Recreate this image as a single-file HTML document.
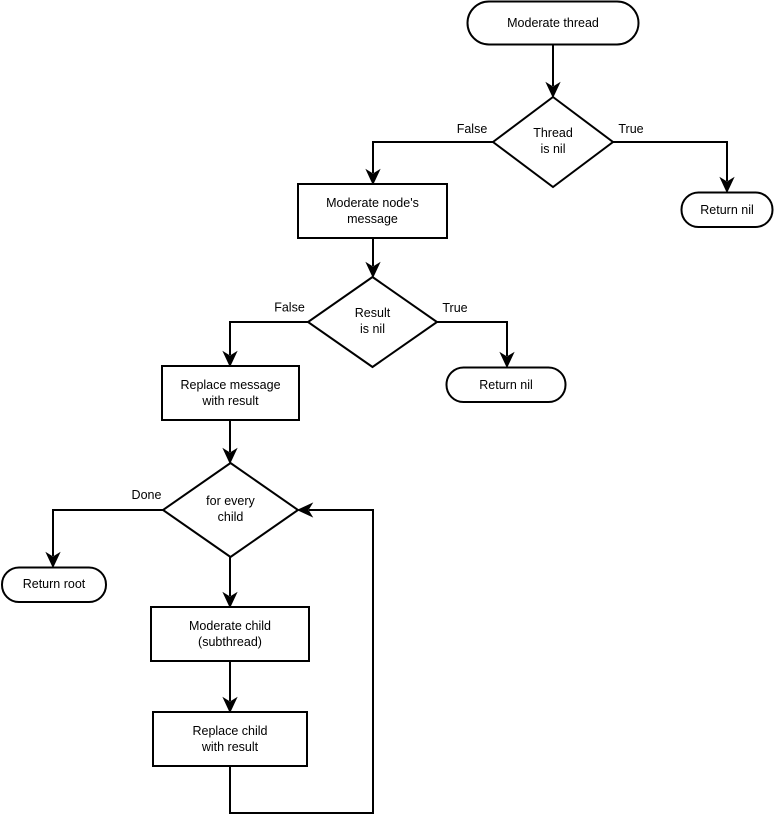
<!DOCTYPE html>
<html>
<head>
<meta charset="utf-8">
<style>
  html,body{margin:0;padding:0;background:#fff;}
  svg{display:block;}
  text{font-family:"Liberation Sans",Arial,sans-serif;font-size:12.5px;fill:#000;}
</style>
</head>
<body>
<svg width="774" height="815" viewBox="0 0 774 815" xmlns="http://www.w3.org/2000/svg">
  <g fill="none" stroke="#000" stroke-width="2">
    <polyline points="553,45 553,86"/>
    <polyline points="613,142 727,142 727,181"/>
    <polyline points="493,142 373,142 373,173"/>
    <polyline points="373,238 373,266"/>
    <polyline points="308,322 230,322 230,355"/>
    <polyline points="437,322 507,322 507,356"/>
    <polyline points="230,420 230,452"/>
    <polyline points="163,510 53,510 53,556"/>
    <polyline points="230,557 230,596"/>
    <polyline points="230,661 230,701"/>
    <polyline points="230,766 230,813 373,813 373,510 309,510"/>
  </g>
  <g fill="#000" stroke="#000" stroke-width="1" stroke-linejoin="miter">
    <path d="M553,97 L546.5,83 L553,87 L559.5,83 Z"/>
    <path d="M727,192 L720.5,178 L727,182 L733.5,178 Z"/>
    <path d="M373,184 L366.5,170 L373,174 L379.5,170 Z"/>
    <path d="M373,277 L366.5,263 L373,267 L379.5,263 Z"/>
    <path d="M230,366 L223.5,352 L230,356 L236.5,352 Z"/>
    <path d="M507,367 L500.5,353 L507,357 L513.5,353 Z"/>
    <path d="M230,463 L223.5,449 L230,453 L236.5,449 Z"/>
    <path d="M53,567 L46.5,553 L53,557 L59.5,553 Z"/>
    <path d="M230,607 L223.5,593 L230,597 L236.5,593 Z"/>
    <path d="M230,712 L223.5,698 L230,702 L236.5,698 Z"/>
    <path d="M298,510 L312,503.5 L308,510 L312,516.5 Z"/>
  </g>
  <g fill="#fff" stroke="#000" stroke-width="2">
    <rect x="467.5" y="1.5" width="171" height="43" rx="21.5" ry="21.5"/>
    <polygon points="553,97 613,142 553,187 493,142"/>
    <rect x="681.5" y="192.5" width="91" height="34.5" rx="17" ry="17"/>
    <rect x="298" y="184" width="149" height="54"/>
    <polygon points="372.5,277 437,322 372.5,367 308,322"/>
    <rect x="162" y="366" width="137" height="54"/>
    <rect x="446.5" y="367.5" width="119" height="34.5" rx="17" ry="17"/>
    <polygon points="230.5,463 298,510 230.5,557 163,510"/>
    <rect x="2" y="567.5" width="104" height="34.5" rx="17" ry="17"/>
    <rect x="151" y="607" width="158" height="54"/>
    <rect x="153" y="712" width="154" height="54"/>
  </g>
  <g text-anchor="middle" dominant-baseline="central">
    <text x="553" y="23">Moderate thread</text>
    <text x="553" y="133">Thread</text>
    <text x="553" y="149">is nil</text>
    <text x="727" y="210">Return nil</text>
    <text x="372.5" y="203">Moderate node's</text>
    <text x="372.5" y="219">message</text>
    <text x="372.5" y="313">Result</text>
    <text x="372.5" y="329">is nil</text>
    <text x="230.5" y="385">Replace message</text>
    <text x="230.5" y="401">with result</text>
    <text x="506" y="385">Return nil</text>
    <text x="230.5" y="501">for every</text>
    <text x="230.5" y="517">child</text>
    <text x="54" y="584">Return root</text>
    <text x="230" y="626">Moderate child</text>
    <text x="230" y="642">(subthread)</text>
    <text x="230" y="731">Replace child</text>
    <text x="230" y="747">with result</text>
    <text x="472" y="129">False</text>
    <text x="631" y="129">True</text>
    <text x="289.5" y="307.5">False</text>
    <text x="455" y="308">True</text>
    <text x="146.5" y="495">Done</text>
  </g>
</svg>
</body>
</html>
